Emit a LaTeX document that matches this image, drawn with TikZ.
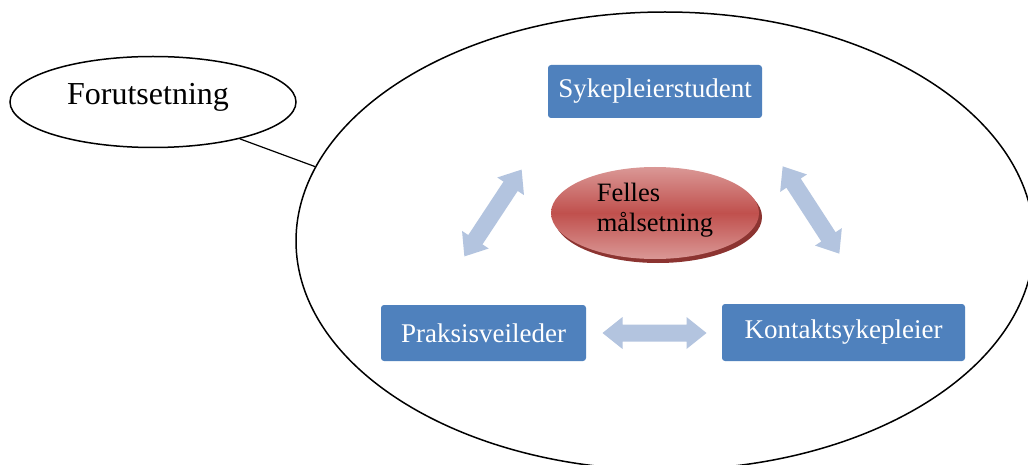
\documentclass[tikz,border=0pt]{standalone}
\usepackage{fontspec}
\setmainfont{Liberation Serif}
\usetikzlibrary{shapes.geometric}
\definecolor{boxblue}{HTML}{4F81BD}
\definecolor{arrowblue}{HTML}{B3C4DF}
\definecolor{redmid}{HTML}{C0504D}
\definecolor{redlight}{HTML}{DA9896}
\definecolor{reddark}{HTML}{8C3431}
\tikzset{
  bluebox/.style={draw=none, fill=boxblue, rounded corners=3pt, text=white, inner sep=0pt,
    font=\fontsize{27}{30}\selectfont},
  pics/dblarrow/.style={code={
    \fill[arrowblue] (-52,0)--(-32,-16)--(-32,-8.5)--(32,-8.5)--(32,-16)--(52,0)
      --(32,16)--(32,8.5)--(-32,8.5)--(-32,16)--cycle;}},
}
\begin{document}
\begin{tikzpicture}[x=1pt,y=-1pt]
\useasboundingbox (0,0) rectangle (1028,465);
\clip (0,0) rectangle (1028,465);
\fill[white] (0,0) rectangle (1028,465);
% big ellipse
\node[ellipse, draw=black, line width=1.5pt, minimum width=738pt, minimum height=458pt, inner sep=0pt] (big) at (665,241) {};
% small ellipse
\node[ellipse, draw=black, line width=1.5pt, minimum width=286pt, minimum height=91pt, inner sep=0pt] (pre) at (153,102) {};
\node[font=\fontsize{32}{35}\selectfont, inner sep=0pt] (pretext) at (148,97) {Forutsetning};
\draw[line width=1.2pt] (pre.-23) -- (big.168);
% boxes
\node[bluebox, minimum width=214pt, minimum height=53pt] (stud) at (655,91.5) {Sykepleierstudent};
\node[bluebox, minimum width=205pt, minimum height=56pt] (prak) at (483.5,333) {Praksisveileder};
\node[bluebox, minimum width=243pt, minimum height=57pt] (kont) at (843.5,332.5) {Kontaktsykepleier};
% center ellipse
\fill[reddark] (658,217) ellipse [x radius=104, y radius=46];
\shade[top color=redlight, bottom color=redlight, middle color=redmid] (655,213) ellipse [x radius=104, y radius=46];
\node[align=left, inner sep=0pt, font=\fontsize{26.5}{30}\selectfont] (goal) at (655,210) {Felles\\målsetning};
% arrows
\path (493,213) pic[rotate=56.6] {dblarrow};
\path (811,210) pic[rotate=-57] {dblarrow};
\path (654.5,333) pic {dblarrow};
\end{tikzpicture}
\end{document}
